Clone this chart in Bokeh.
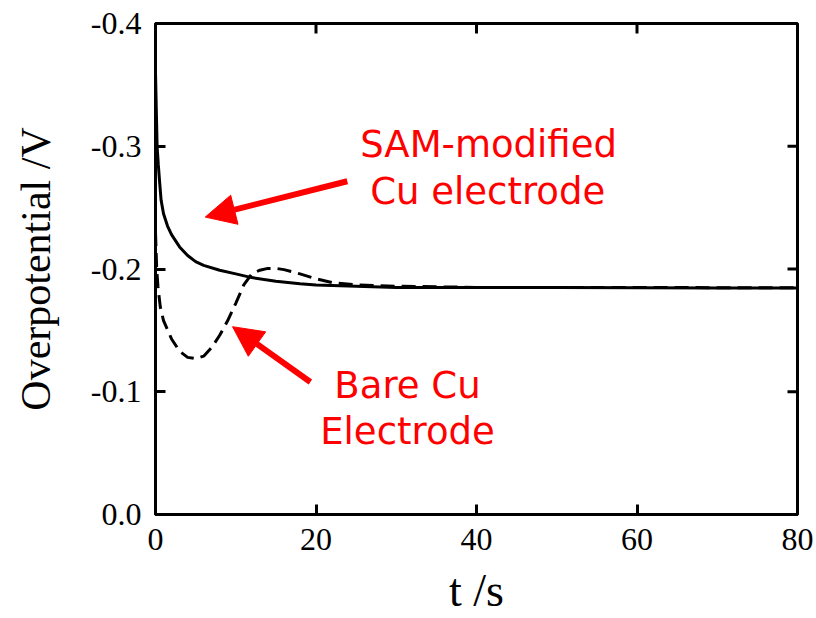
from bokeh.plotting import figure
from bokeh.models import (Range1d, FixedTicker, PrintfTickFormatter,
                          Arrow, NormalHead, ColumnDataSource)
from bokeh.core.properties import value
from bokeh.embed import file_html
from bokeh.resources import INLINE

# ---- data ----
sam_t = [0, 0.1, 0.2, 0.35, 0.5, 0.7, 1.0, 1.5, 2, 3, 4, 5, 6, 8, 10, 12, 15, 18, 20,
         25, 30, 40, 50, 60, 70, 80]
sam_v = [-0.36, -0.33, -0.30, -0.285, -0.272, -0.256, -0.245, -0.235, -0.228, -0.218,
         -0.211, -0.206, -0.203, -0.199, -0.196, -0.193, -0.190, -0.188, -0.187,
         -0.186, -0.185, -0.185, -0.185, -0.1848, -0.1846, -0.1845]

bare_t = [0, 0.15, 0.3, 0.6, 1, 2, 3, 4, 5, 6, 7, 8, 9, 10, 11, 12, 13, 14, 15, 16,
          18, 20, 22, 25, 30, 40, 50, 60, 70, 80]
bare_v = [-0.23, -0.2, -0.186, -0.169, -0.158, -0.143, -0.133, -0.128, -0.127, -0.129,
          -0.136, -0.146, -0.158, -0.172, -0.187, -0.196, -0.199, -0.2005, -0.2005,
          -0.1995, -0.196, -0.192, -0.189, -0.187, -0.186, -0.185, -0.185, -0.185,
          -0.1848, -0.1848]

x_ticks = [0, 20, 40, 60, 80]
y_ticks = [-0.4, -0.3, -0.2, -0.1, 0.0]

ann_text = ["SAM-modified", "Cu electrode", "Bare Cu", "Electrode"]
ann_x = [41.5, 41.4, 31.4, 31.4]
ann_y = [-0.3017, -0.2635, -0.1049, -0.0675]

X_MIN, X_MAX = 0, 80
Y_BOTTOM, Y_TOP = 0.0, -0.4

# ---- figure ----
p = figure(width=816, height=618, output_backend="svg", toolbar_location=None,
           x_range=Range1d(X_MIN, X_MAX), y_range=Range1d(Y_BOTTOM, Y_TOP),
           min_border_left=155, min_border_right=19, min_border_top=23,
           min_border_bottom=103)
p.grid.grid_line_color = None
p.background_fill_color = "white"
p.border_fill_color = "white"
p.outline_line_color = "black"
p.outline_line_width = 3

TICK_FONT = "32px"
SERIF = "Liberation Serif"

for ax in (p.xaxis[0], p.yaxis[0]):
    ax.axis_line_width = 3
    ax.major_tick_line_width = 3
    ax.major_tick_in = 10
    ax.major_tick_out = 0
    ax.minor_tick_line_color = None
    ax.major_label_text_font = SERIF
    ax.major_label_text_font_size = TICK_FONT
    ax.major_label_text_color = "black"
    ax.axis_label_text_font = SERIF
    ax.axis_label_text_font_style = "normal"
    ax.axis_label_text_color = "black"

p.xaxis.ticker = FixedTicker(ticks=x_ticks)
p.yaxis.ticker = FixedTicker(ticks=y_ticks)
p.yaxis.formatter = PrintfTickFormatter(format="%.1f")
p.xaxis.major_label_standoff = 14
p.yaxis.major_label_standoff = 14
p.xaxis.axis_label = "t /s"
p.xaxis.axis_label_text_font_size = "46px"
p.xaxis.axis_label_standoff = 12
p.yaxis.axis_label = "Overpotential /V"
p.yaxis.axis_label_text_font_size = "42px"
p.yaxis.axis_label_standoff = 29

# inward ticks on the top and right edges (half of each dash is clipped by the frame)
p.scatter(x_ticks, [Y_TOP] * len(x_ticks), marker="dash", size=20, angle=1.5708,
          line_color="black", line_width=3)
p.scatter([X_MAX] * len(y_ticks), y_ticks, marker="dash", size=20,
          line_color="black", line_width=3)

# curves
p.line(sam_t, sam_v, line_color="black", line_width=3)
p.line(bare_t, bare_v, line_color="black", line_width=3, line_dash="14 7")

# arrows
p.add_layout(Arrow(end=NormalHead(size=30, fill_color="red", line_color="red"),
                   x_start=23.9, y_start=-0.2715, x_end=6.2, y_end=-0.2423,
                   line_color="red", line_width=6))
p.add_layout(Arrow(end=NormalHead(size=30, fill_color="red", line_color="red"),
                   x_start=19.3, y_start=-0.108, x_end=9.6, y_end=-0.153,
                   line_color="red", line_width=6))

src = ColumnDataSource(dict(x=ann_x, y=ann_y, text=ann_text))
p.text(x="x", y="y", text="text", source=src, text_color="red",
       text_font=value("DejaVu Sans"), text_font_size="37px",
       text_align="center", text_baseline="alphabetic")

open("out.html", "w").write(file_html(p, INLINE))
